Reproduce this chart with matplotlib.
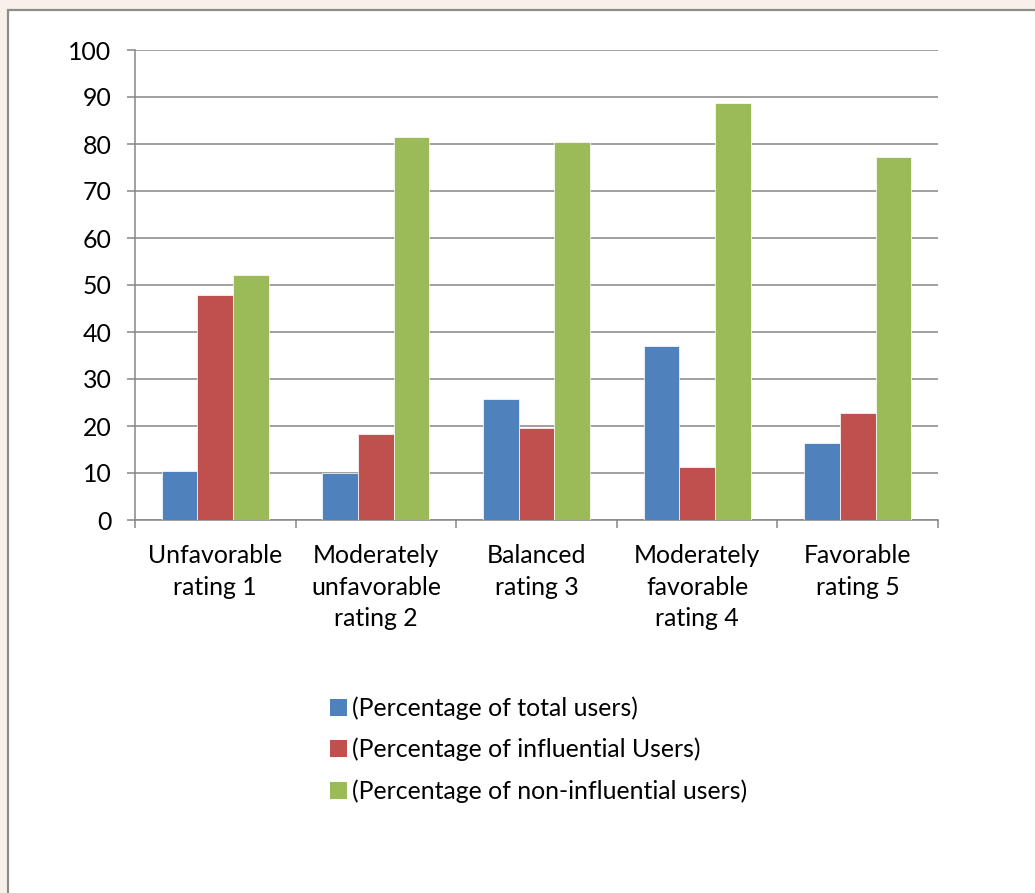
import numpy as np
import matplotlib
matplotlib.use("Agg")
import matplotlib.pyplot as plt
from matplotlib.patches import Rectangle, Patch

# Rating categories and the three user groups (percent)
categories = [
    "Unfavorable\nrating 1",
    "Moderately\nunfavorable\nrating 2",
    "Balanced\nrating 3",
    "Moderately\nfavorable\nrating 4",
    "Favorable\nrating 5",
]
total_users = [10.5, 10.1, 25.7, 37.1, 16.4]
influential_users = [47.8, 18.4, 19.6, 11.2, 22.8]
non_influential_users = [52.1, 81.5, 80.4, 88.7, 77.2]

series_labels = [
    "(Percentage of total users)",
    "(Percentage of influential Users)",
    "(Percentage of non-influential users)",
]
series_colors = ["#4F81BD", "#C0504D", "#9BBB59"]
y_ticks = list(range(0, 101, 10))

W, H, DPI = 1035, 893, 100
plt.rcParams["font.family"] = ["Lato", "DejaVu Sans"]
FS = 17.9

fig = plt.figure(figsize=(W / DPI, H / DPI), dpi=DPI)
fig.patch.set_facecolor("white")

# pale backdrop outside the chart frame
fig.patches.append(Rectangle((0, 0), 1, 1, transform=fig.transFigure,
                             facecolor="#F8F1E9", edgecolor="none", zorder=-3))
frame_l, frame_t = 8 / W, 1 - 10 / H
fig.patches.append(Rectangle((frame_l, -0.01), 1.02 - frame_l, frame_t + 0.01,
                             transform=fig.transFigure, facecolor="white",
                             edgecolor="#8C8C8C", linewidth=1.6, zorder=-2))

ax = fig.add_axes([135 / W, (H - 520) / H, (938 - 135) / W, 470 / H])
ax.set_facecolor("none")

x = np.arange(len(categories))
w = 1 / 4.5
for i, (vals, col) in enumerate(zip([total_users, influential_users, non_influential_users],
                                     series_colors)):
    ax.bar(x + (i - 1) * w, vals, width=w, color=col, edgecolor="white",
           linewidth=0.5, zorder=3)

ax.set_xlim(-0.5, len(categories) - 0.5)
ax.set_ylim(0, 100)
ax.set_yticks(y_ticks)
ax.yaxis.grid(True, color="#868686", linewidth=1.1, zorder=0)
ax.set_axisbelow(True)

for s in ["top", "right"]:
    ax.spines[s].set_visible(False)
for s in ["left", "bottom"]:
    ax.spines[s].set_color("#868686")
    ax.spines[s].set_linewidth(1.1)

ax.set_xticks(x)
ax.set_xticklabels(categories, fontsize=FS, linespacing=1.45)
ax.set_xticks(np.arange(-0.5, len(categories)), minor=True)
ax.tick_params(axis="x", which="major", length=0, pad=17.5)
ax.tick_params(axis="x", which="minor", length=6, width=1.1, color="#868686")
ax.tick_params(axis="y", length=6, width=1.1, color="#868686", pad=11, labelsize=FS)

handles = [Patch(facecolor=c, edgecolor="none") for c in series_colors]
fig.legend(handles, series_labels, loc="upper left",
           bbox_to_anchor=(308 / W, 1 - 674 / H), frameon=False, fontsize=FS,
           handlelength=0.65, handleheight=0.65, handletextpad=0.22,
           labelspacing=0.72)

fig.savefig("out.png", dpi=DPI)
